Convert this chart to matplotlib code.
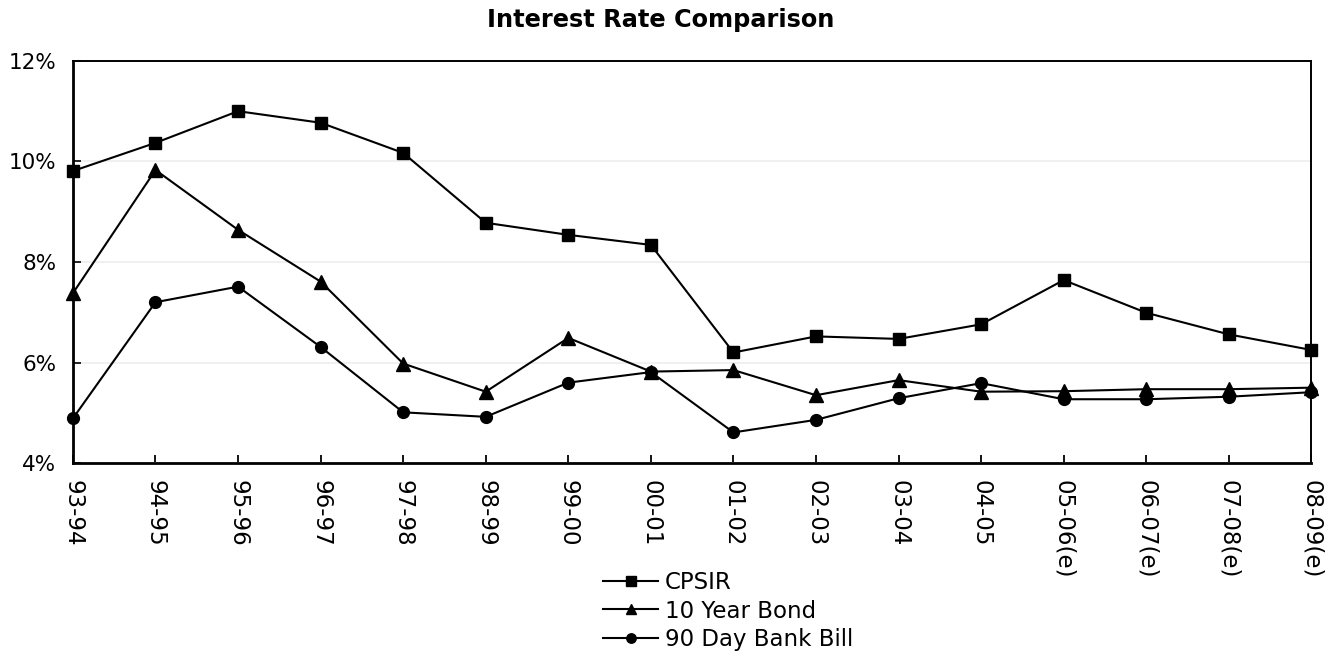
import matplotlib
matplotlib.use("Agg")
import matplotlib.pyplot as plt
from matplotlib.ticker import FuncFormatter, FixedLocator

years = ["93-94", "94-95", "95-96", "96-97", "97-98", "98-99", "99-00", "00-01",
         "01-02", "02-03", "03-04", "04-05", "05-06(e)", "06-07(e)", "07-08(e)", "08-09(e)"]
cpsir = [9.81, 10.37, 11.00, 10.77, 10.17, 8.78, 8.54, 8.34,
         6.20, 6.52, 6.47, 6.76, 7.64, 6.99, 6.56, 6.25]
bond_10y = [7.38, 9.83, 8.64, 7.61, 5.98, 5.42, 6.49, 5.82,
            5.85, 5.35, 5.65, 5.42, 5.43, 5.47, 5.47, 5.50]
bill_90d = [4.89, 7.20, 7.51, 6.31, 5.01, 4.92, 5.60, 5.81,
            4.61, 4.86, 5.29, 5.59, 5.27, 5.27, 5.32, 5.41]
y_ticks = [4, 6, 8, 10, 12]

plt.rcParams["font.family"] = ["DejaVu Sans"]

fig = plt.figure(figsize=(13.26, 6.55), dpi=100)
ax = fig.add_axes([0.055, 0.293, 0.934, 0.614])

x = list(range(len(years)))
ax.plot(x, cpsir, color="black", lw=1.5, marker="s", ms=8.5, label="CPSIR", clip_on=False, zorder=3)
ax.plot(x, bond_10y, color="black", lw=1.5, marker="^", ms=9.5, label="10 Year Bond", clip_on=False, zorder=3)
ax.plot(x, bill_90d, color="black", lw=1.5, marker="o", ms=8.5, label="90 Day Bank Bill", clip_on=False, zorder=3)

ax.set_xlim(0, len(years) - 1)
ax.set_ylim(4, 12)
ax.yaxis.set_major_locator(FixedLocator(y_ticks))
ax.yaxis.set_major_formatter(FuncFormatter(lambda v, p: f"{v:.0f}%"))
ax.set_xticks(x)
ax.set_xticklabels(years, rotation=-90, fontsize=16.5)
ax.tick_params(axis="x", direction="in", length=6, width=1.3, pad=12)
ax.tick_params(axis="y", direction="in", length=6, width=1.2, labelsize=15.5, pad=12)

ax.grid(axis="y", color="#efefef", lw=1.3, zorder=0)
ax.set_axisbelow(True)
for name, s in ax.spines.items():
    s.set_color("black")
    s.set_linewidth(2.0 if name in ("left", "bottom") else 1.4)

fig.text(0.498, 1 - 20 / 655, "Interest Rate Comparison", fontsize=17.3,
         fontweight="bold", ha="center", va="center")

fig.legend(loc="upper left", bbox_to_anchor=(603 / 1326, 1 - 571 / 655), frameon=False,
           fontsize=16.5, handlelength=2.4, handletextpad=0.3, labelspacing=0.24,
           borderpad=0, borderaxespad=0, markerscale=0.8)

fig.savefig("out.png", dpi=100)
